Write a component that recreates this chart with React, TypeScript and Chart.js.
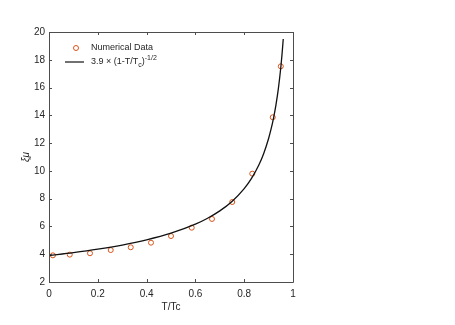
import React, { useEffect, useRef } from "react";
import { Chart, registerables } from "chart.js";

Chart.register(...registerables);

const dataT = [0.016, 0.085, 0.168, 0.253, 0.335, 0.418, 0.5, 0.585, 0.668, 0.751, 0.833, 0.917, 0.95];
const dataXi = [3.92, 3.97, 4.07, 4.3, 4.5, 4.83, 5.31, 5.91, 6.54, 7.76, 9.8, 13.86, 17.53];

const fitT = [0, 0.1, 0.2, 0.3, 0.4, 0.5, 0.6, 0.65, 0.7, 0.75, 0.8, 0.83, 0.86, 0.88, 0.9, 0.91, 0.92, 0.93, 0.94, 0.95, 0.955, 0.96];
const fitXi = [3.9, 4.111, 4.36, 4.661, 5.035, 5.515, 6.166, 6.592, 7.12, 7.8, 8.721, 9.459, 10.423, 11.258, 12.333, 13.0, 13.789, 14.741, 15.922, 17.441, 18.385, 19.5];

const xTicks = [0, 0.2, 0.4, 0.6, 0.8, 1];
const yTicks = [2, 4, 6, 8, 10, 12, 14, 16, 18, 20];

const AXIS_COLOR = "#4d4d4d";
const TEXT_COLOR = "#262626";
const DATA_COLOR = "#D95319";
const FONT = "Liberation Sans, Arial, sans-serif";

const framePlugin = {
  id: "frame",
  afterDraw(chart: any) {
    const { ctx, chartArea, scales } = chart;
    const { left, right, top, bottom } = chartArea;
    ctx.save();
    ctx.strokeStyle = AXIS_COLOR;
    ctx.lineWidth = 1;
    ctx.beginPath();
    ctx.rect(Math.round(left) + 0.5, Math.round(top) + 0.5, Math.round(right - left), Math.round(bottom - top));
    ctx.stroke();
    const tl = 3;
    ctx.beginPath();
    xTicks.forEach((v) => {
      const x = Math.round(scales.x.getPixelForValue(v)) + 0.5;
      ctx.moveTo(x, bottom);
      ctx.lineTo(x, bottom - tl);
      ctx.moveTo(x, top);
      ctx.lineTo(x, top + tl);
    });
    yTicks.forEach((v) => {
      const y = Math.round(scales.y.getPixelForValue(v)) + 0.5;
      ctx.moveTo(left, y);
      ctx.lineTo(left + tl, y);
      ctx.moveTo(right, y);
      ctx.lineTo(right - tl, y);
    });
    ctx.stroke();

    // axis titles
    ctx.fillStyle = TEXT_COLOR;
    ctx.font = `10px ${FONT}`;
    ctx.textAlign = "center";
    ctx.textBaseline = "middle";
    ctx.fillText("T/Tc", (left + right) / 2, 307);
    ctx.save();
    ctx.translate(26, (top + bottom) / 2);
    ctx.rotate(-Math.PI / 2);
    ctx.font = `italic 10px ${FONT}`;
    ctx.fillText("\u03BE\u03BC", 0, 0);
    ctx.restore();

    // legend
    ctx.strokeStyle = DATA_COLOR;
    ctx.beginPath();
    ctx.arc(76, 48, 2.5, 0, Math.PI * 2);
    ctx.stroke();
    ctx.strokeStyle = "#111";
    ctx.lineWidth = 1.2;
    ctx.beginPath();
    ctx.moveTo(65, 62);
    ctx.lineTo(84, 62);
    ctx.stroke();
    ctx.fillStyle = TEXT_COLOR;
    ctx.textAlign = "left";
    ctx.font = `9px ${FONT}`;
    ctx.fillText("Numerical Data", 91, 48);
    let x = 91;
    const main = "3.9 \u00D7 (1-T/T";
    ctx.fillText(main, x, 62);
    x += ctx.measureText(main).width;
    ctx.font = `7px ${FONT}`;
    ctx.fillText("c", x, 65);
    x += ctx.measureText("c").width;
    ctx.font = `9px ${FONT}`;
    ctx.fillText(")", x, 62);
    x += ctx.measureText(")").width;
    ctx.font = `7px ${FONT}`;
    ctx.fillText("-1/2", x, 58);
    ctx.restore();
  },
};

export default function App() {
  const ref = useRef<HTMLCanvasElement>(null);
  useEffect(() => {
    document.body.style.margin = "0";
    const chart = new Chart(ref.current!, {
      type: "scatter",
      data: {
        datasets: [
          {
            type: "line",
            label: "fit",
            data: fitT.map((t, i) => ({ x: t, y: fitXi[i] })),
            borderColor: "#111",
            borderWidth: 1.3,
            pointRadius: 0,
            cubicInterpolationMode: "monotone",
            fill: false,
          } as any,
          {
            label: "Numerical Data",
            data: dataT.map((t, i) => ({ x: t, y: dataXi[i] })),
            borderColor: DATA_COLOR,
            backgroundColor: "rgba(0,0,0,0)",
            borderWidth: 1,
            pointRadius: 2.5,
            pointStyle: "circle",
          },
        ],
      },
      options: {
        responsive: false,
        animation: false,
        layout: { padding: { left: 0, top: 32, right: 162, bottom: 0 } },
        plugins: { legend: { display: false }, tooltip: { enabled: false } },
        scales: {
          x: {
            type: "linear",
            min: 0,
            max: 1,
            afterBuildTicks: (s: any) => {
              s.ticks = xTicks.map((v) => ({ value: v }));
            },
            afterFit: (s: any) => {
              s.height = 43;
            },
            grid: { display: false, drawTicks: false },
            border: { display: false },
            ticks: {
              padding: 6,
              color: TEXT_COLOR,
              font: { family: FONT, size: 10 },
              maxRotation: 0,
              callback: (v: any) => String(v),
            },
          },
          y: {
            type: "linear",
            min: 2,
            max: 20,
            afterBuildTicks: (s: any) => {
              s.ticks = yTicks.map((v) => ({ value: v }));
            },
            afterFit: (s: any) => {
              s.width = 49;
            },
            grid: { display: false, drawTicks: false },
            border: { display: false },
            ticks: {
              padding: 4,
              color: TEXT_COLOR,
              font: { family: FONT, size: 10 },
              callback: (v: any) => String(v),
            },
          },
        },
      },
      plugins: [framePlugin],
    });
    return () => chart.destroy();
  }, []);
  return (
    <div style={{ position: "absolute", left: 0, top: 0, width: 455, height: 325 }}>
      <canvas ref={ref} width={455} height={325} />
    </div>
  );
}
